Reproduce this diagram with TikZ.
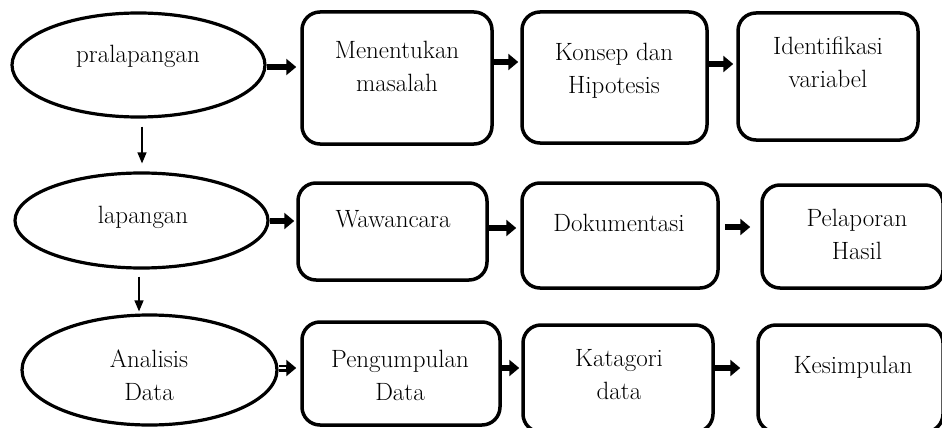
\documentclass[tikz,border=0pt]{standalone}
\usetikzlibrary{arrows.meta,shapes.geometric}
\begin{document}
\begin{tikzpicture}[x=1pt,y=-1pt,
 box/.style={draw, line width=3.5pt, rounded corners=18pt, inner sep=0pt},
 oval/.style={draw, ellipse, line width=3.2pt, inner sep=0pt},
 txt/.style={font=\fontsize{25}{33}\selectfont, align=center, anchor=base, inner sep=0pt},
 fat/.style={line width=6pt, -{Triangle[length=10pt,width=16pt]}},
 dbl/.style={line width=7pt, -{Triangle[length=10pt,width=16pt]},
   postaction={draw=white, line width=2pt, shorten >=10pt, -}},
 thinarrow/.style={line width=1.3pt, -{Triangle[length=11pt,width=9pt]}}
]
\useasboundingbox (0,0) rectangle (942,428);

% ellipses
\node[oval, minimum width=253pt, minimum height=104pt] (e1) at (138.5,65) {};
\node[oval, minimum width=253pt, minimum height=95pt] (e2) at (141.5,220.5) {};
\node[oval, minimum width=255pt, minimum height=110pt] (e3) at (149.5,370) {};

% boxes
\node[box, minimum width=190pt, minimum height=132pt] (b11) at (397,78) {};
\node[box, minimum width=185pt, minimum height=131pt] (b12) at (614.5,77.5) {};
\node[box, minimum width=180pt, minimum height=127pt] (b13) at (828,76.5) {};
\node[box, minimum width=189pt, minimum height=97pt] (b21) at (392.5,231.5) {};
\node[box, minimum width=196pt, minimum height=105pt] (b22) at (620,235.5) {};
\node[box, minimum width=181pt, minimum height=103pt] (b23) at (852.5,236.5) {};
\node[box, minimum width=198pt, minimum height=103pt] (b31) at (401,373.5) {};
\node[box, minimum width=190pt, minimum height=107pt] (b32) at (618,378.5) {};
\node[box, minimum width=185pt, minimum height=107pt] (b33) at (850.5,378.5) {};

% texts (anchor = baseline of the last line)
\node[txt] (t1) at (138,63) {pralapangan};
\node[txt] (t2) at (143,223) {lapangan};
\node[txt] (t3) at (149,400) {Analisis\\Data};
\node[txt] (t11) at (397,92) {Menentukan\\masalah};
\node[txt] (t12) at (614,93) {Konsep dan\\Hipotesis};
\node[txt] (t13) at (828,88) {Identifikasi\\variabel};
\node[txt] (t21) at (393,227) {Wawancara};
\node[txt] (t22) at (619,231) {Dokumentasi};
\node[txt] (t23) at (857,259) {Pelaporan\\Hasil};
\node[txt] (t31) at (400,400) {Pengumpulan\\Data};
\node[txt] (t32) at (619,399) {Katagori\\data};
\node[txt] (t33) at (853,373) {Kesimpulan};

% horizontal arrows
\draw[fat] (e1.east |- 0,67) -- ([xshift=-4pt]b11.west |- 0,67);
\draw[fat] (b11.east |- 0,62) -- ([xshift=-2pt]b12.west |- 0,62);
\draw[fat] (b12.east |- 0,64) -- ([xshift=-3pt]b13.west |- 0,64);
\draw[fat] (e2.east |- 0,221) -- ([xshift=-2pt]b21.west |- 0,221);
\draw[fat] (b21.east |- 0,228) -- ([xshift=-4pt]b22.west |- 0,228);
\draw[fat] ([xshift=5pt]b22.east |- 0,227) -- ([xshift=-10pt]b23.west |- 0,227);
\draw[dbl] (e3.east |- 0,368) -- ([xshift=-4pt]b31.west |- 0,368);
\draw[fat] (b31.east |- 0,368) -- ([xshift=-2pt]b32.west |- 0,368);
\draw[fat] (b32.east |- 0,368) -- ([xshift=-16pt]b33.west |- 0,368);

% vertical arrows
\draw[thinarrow] ([xshift=3.5pt,yshift=-8pt]e1.south) -- ([xshift=0.5pt,yshift=8pt]e2.north);
\draw[thinarrow] ([xshift=-2.5pt,yshift=-7pt]e2.south) -- ([xshift=-10.5pt,yshift=2pt]e3.north);
\end{tikzpicture}
\end{document}
